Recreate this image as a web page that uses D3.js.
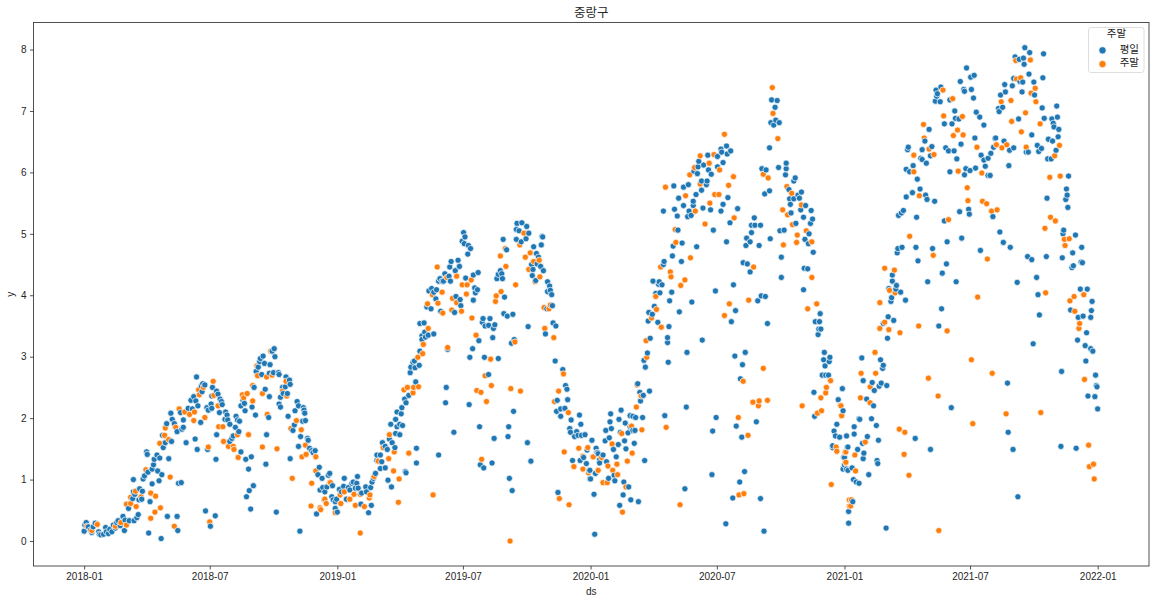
<!DOCTYPE html>
<html>
<head>
<meta charset="utf-8">
<script src="https://d3js.org/d3.v7.min.js"></script>
<style>
    html, body { margin: 0; padding: 0; background: #fff; }
    text { font-family: "Liberation Sans", Arial, sans-serif; fill: #262626; }
    .kr { font-family: "Noto Sans CJK KR", sans-serif; }
</style>
</head>
<body>
<svg id="chart"></svg>
<script>
// [days since 2018-01-01, y]
const weekdayPoints = [
[0,.16],[1,.26],[3,.30],[6,.23],[9,.18],[11,.14],[13,.23],[16,.29],[21,.15],[22,.11],[24,.10],[28,.11],[31,.22],[32,.15],[35,.12],[37,.19],[40,.15],[42,.26],[45,.21],[47,.30],[49,.33],[52,.25],[56,.40],[58,.17],[59,.34],[65,.33],[72,.33],[76,.38],[78,.43],[93,.13],[111,.04],[120,.40],[134,.40],[135,.17],
[64,.53],[70,.69],[73,.76],[71,.80],[79,.67],[83,.68],[80,.85],[84,.81],[95,.64],[98,.93],[108,.98],[136,.94],[140,.95],[112,1.08],[71,1.0],[85,1.01],[87,1.06],[92,1.12],[98,1.17],[100,1.24],[101,1.33],[90,1.45],[91,1.41],[105,1.40],[109,1.35],[106,1.14],[122,1.34],[114,1.52],[117,1.60],[113,1.72],[126,1.62],[119,1.91],[125,2.08],[127,1.98],[130,1.91],[134,1.78],[141,1.82],[143,1.85],[143,1.97],[147,1.60],[160,1.66],[163,1.49],[168,1.93],[139,2.09],[150,2.16],[156,2.15],[154,2.29],[158,2.35],[161,2.28],[164,2.20],[162,2.67],[170,2.43],[169,2.52],[171,2.56],[174,2.54],[177,2.17],[179,2.13],[183,2.23],[184,2.16],[184,2.36],[185,2.50],[191,2.44],[193,2.39],[196,2.31],[198,2.27],[199,2.22],[195,2.09],[204,2.10],[206,2.05],[203,1.98],[207,1.97],[210,1.90],[191,1.73],[178,1.49],[190,1.33],[175,.49],[189,.41],[182,.24],
[219,2.03],[221,1.97],[224,1.95],[218,1.85],[223,1.78],[215,1.71],[213,1.67],[210,1.62],[226,1.45],[233,1.33],[241,1.37],[237,1.17],[244,.90],[238,.82],[234,.72],[240,.52],[277,.47],[311,.16],[262,1.25],[263,1.73],[226,2.20],[231,2.24],[229,2.29],[232,2.12],[242,2.18],[247,2.05],[245,2.50],[261,2.47],[267,2.35],[266,2.01],[248,2.76],[251,2.83],[253,2.92],[254,2.97],[258,3.01],[260,2.89],[268,2.87],[274,3.13],[271,3.09],[275,3.00],[256,2.71],[267,2.73],[273,2.74],[280,2.74],[281,2.71],[291,2.67],[296,2.62],[297,2.55],[290,2.51],[286,2.50],[293,2.40],[287,2.40],[283,2.34],[281,2.23],[283,2.18],[294,2.03],[307,2.27],[309,2.20],[304,2.12],[316,2.17],[317,2.13],[318,2.08],[315,1.95],[319,1.96],[303,1.89],[301,1.80],[312,1.70],[322,1.67],[323,1.64],[309,1.54],[297,1.34],[325,1.51],[328,1.47],[333,1.47],[330,1.44],[339,1.20],[337,1.08],[343,1.02],[352,1.07],[340,.83],[344,.87],[347,.80],[350,.88],[335,.44],[346,.67],
[354,1.10],[358,.90],[357,.72],[362,.64],[359,.67],[364,.68],[362,.53],[365,.47],[368,.84],[371,.80],[375,1.02],[374,.89],[378,.68],[381,.87],[383,.83],[386,.94],[388,.96],[391,.86],[393,.94],[394,1.05],[395,.86],[399,.60],[400,.78],[406,.88],[407,.80],[410,.46],[414,.58],[413,.87],[415,.96],[417,1.02],[420,1.10],[427,1.18],[434,1.19],[438,.99],[443,.88],[422,1.31],[422,1.40],[427,1.40],[429,1.29],[430,1.60],[434,1.54],[437,1.49],[440,1.66],[444,1.60],[448,1.52],[442,1.90],[449,1.98],[451,1.86],[455,1.90],[459,1.88],[449,1.75],[455,1.73],[451,2.10],[457,2.07],[458,2.17],[462,2.31],[464,2.25],[464,1.11],[463,1.13],[479,1.51],[479,1.27],[470,2.74],[471,2.83],[474,2.91],[476,2.93],[477,2.82],[483,2.86],[468,2.37],[478,2.59],[484,3.09],[484,3.54],[490,3.55],[487,3.34],[487,3.28],[491,3.40],[492,3.32],[496,3.35],[504,3.37],[497,4.07],[501,4.11],[504,4.05],[508,4.09],[507,3.94],[494,3.81],[500,3.78],[514,3.74],[511,4.23],[513,4.27],[516,4.23],[520,4.35],[518,4.23],[526,4.31],[528,4.23],[527,4.46],[529,4.55],[535,4.40],[539,4.57],[541,4.47],[547,5.02],[549,4.95],[545,4.88],[548,4.84],[554,4.81],[557,4.76],[553,4.67],[550,4.28],[561,4.33],[568,4.37],[563,4.12],[567,4.09],[564,4.04],[536,3.98],[542,3.93],[543,3.83],[561,3.92],[534,3.72],[575,3.62],[585,3.62],[574,3.56],[578,3.50],[583,3.51],[590,3.46],[592,3.52],[589,3.31],[569,3.26],[560,3.13],[556,2.99],[524,3.12],[577,2.99],[597,2.97],[583,2.71],[522,2.50],[521,2.25],[555,2.22],[533,1.77],[511,1.40],[570,1.86],[591,1.67],[571,1.24],[576,1.19],[588,1.27],
[604,4.91],[609,4.74],[600,4.40],[602,4.35],[595,4.27],[597,4.34],[603,4.27],[606,3.97],[605,3.70],[610,3.66],[618,3.69],[620,3.28],[616,3.22],[619,2.11],[612,1.86],[611,1.70],[613,1.02],[617,.82],[640,3.49],[639,1.60],[644,1.30],[624,5.17],[631,5.18],[638,5.12],[623,5.07],[627,5.05],[630,4.87],[623,4.91],[641,5.01],[637,4.92],[648,4.79],[660,4.96],[661,4.95],[659,4.82],[652,4.68],[655,4.62],[645,4.50],[647,4.42],[653,4.51],[658,4.47],[662,4.40],[646,4.32],[651,4.24],[668,4.22],[671,4.15],[668,4.06],[672,4.08],[674,4.01],[675,3.83],[667,3.78],[676,3.55],[680,3.50],[665,3.37],[679,2.93],[690,2.79],[694,2.53],[696,2.47],[682,2.29],[697,2.30],[687,2.15],[693,2.16],[681,2.11],[687,2.03],[702,1.97],[714,2.05],[716,1.90],[700,1.83],[701,1.77],[710,1.78],[707,1.70],[712,1.72],[717,1.72],[722,1.73],[732,1.64],[704,1.31],[715,1.31],[720,1.36],[724,1.26],[725,1.48],[728,1.15],[730,1.01],[737,1.10],[738,1.51],[739,1.44],[743,1.32],[683,.79],[735,.76],[736,.11],
[741,1.42],[729,1.15],[729,1.01],[732,1.64],[740,1.44],[743,1.27],[748,1.40],[753,1.29],[751,1.63],[757,1.68],[760,1.83],[752,1.80],[758,1.94],[759,2.07],[771,1.98],[774,2.13],[773,1.77],[780,1.92],[784,1.76],[770,1.57],[779,1.63],[781,1.50],[763,1.49],[767,1.37],[793,1.59],[808,1.31],[764,1.07],[756,1.02],[765,.98],[778,.96],[785,.88],[777,.75],[772,.58],[788,.67],[799,.64],[787,2.04],[791,2.03],[795,2.01],[805,2.01],[787,1.86],[791,1.80],[794,1.80],[802,2.28],[806,2.37],[801,2.42],[815,2.44],[798,2.56],[837,2.04],[868,2.18],[807,2.94],[809,2.83],[812,3.06],[842,2.91],[869,3.07],[816,3.30],[841,3.23],[841,3.31],[891,3.27],[813,3.58],[814,3.72],[819,3.69],[822,3.82],[827,3.56],[843,3.49],[844,3.91],[858,3.73],[876,3.89],[820,4.23],[829,4.22],[828,4.18],[833,4.17],[824,4.03],[830,4.04],[847,4.05],[835,4.50],[836,4.55],[861,4.55],[848,4.64],[849,4.80],[862,4.85],[883,4.79],[856,5.06],[835,5.37],[851,5.40],[855,5.29],[864,5.46],[857,5.58],[870,5.28],[872,5.37],[875,5.30],[878,5.46],[878,5.53],[882,5.64],[892,5.42],[903,5.39],[890,5.71],[850,5.78],[864,5.76],[871,5.80],[890,5.86],[897,5.80],[898,5.86],[884,5.98],[879,6.02],[885,6.09],[886,6.18],[893,6.12],[900,6.04],[904,5.97],[899,6.28],[913,6.26],[913,6.09],[921,6.16],[918,6.38],[919,6.33],[926,6.43],[927,6.30],[932,6.35],[928,5.59],[921,5.48],[918,5.37],[942,5.41],[931,5.18],[907,5.06],[926,4.87],[910,4.07],[936,4.17],[939,3.75],[933,3.57],[911,2.01],[906,1.79],[905,1.08],[866,.85],[925,.28],[938,3.01],[953,3.07],[949,2.87],[946,2.64],[940,1.87],[969,1.94],[948,1.69],[952,1.13],[945,.96],[935,.70],[975,.69],[980,.16],[985,3.54],[971,3.91],[976,3.99],[982,3.98],[960,4.38],[956,4.51],[950,4.53],[955,4.93],[954,4.81],[960,4.87],[962,5.02],[962,5.14],[967,5.14],[975,5.14],[966,5.26],[973,4.81],[989,4.92],[1003,5.05],[1009,5.06],[1005,4.62],[1005,4.29],[1037,4.09],[1038,4.44],[1043,4.43],[1051,4.70],[1044,4.84],[1039,4.91],[1045,5.00],[1026,5.17],[1037,5.27],[1047,5.17],[1050,5.24],[1048,5.38],[1040,5.46],[1033,5.39],[1019,5.34],[1018,5.48],[1017,5.57],[1023,5.57],[1031,5.58],[1029,5.63],[1034,5.68],[1016,5.72],[1025,5.91],[1023,5.86],[1011,5.96],[1012,6.06],[1012,6.15],[1001,6.08],[983,6.04],[977,6.06],[981,5.65],[988,5.70],[988,6.40],[990,6.81],[997,6.85],[994,6.77],[1002,6.81],[991,7.18],[999,7.17],[996,7.06],[1061,3.70],[1054,3.57],[1060,3.57],[1059,3.45],[1062,3.45],[1058,3.36],[1067,3.07],[1075,2.99],[1066,2.95],[1074,2.92],[1068,2.85],[1064,2.70],[1069,2.70],[1073,2.70],[1093,2.48],[1052,2.42],[1053,2.03],[1087,2.30],[1094,2.12],[1085,1.90],[1081,1.79],[1083,1.71],[1089,1.69],[1099,1.71],[1100,1.53],[1079,1.52],[1079,1.55],[1096,1.36],[1094,1.18],[1099,1.17],[1102,.48],[1102,.29],
[1108,.64],[1156,.21],[1346,.72],[1131,1.08],[1117,.94],[1113,.96],[1109,1.00],[1107,1.19],[1101,1.15],[1096,1.24],[1094,1.17],[1095,1.36],[1101,1.53],[1110,1.74],[1110,1.86],[1117,1.99],[1118,1.98],[1135,1.99],[1142,1.88],[1129,1.70],[1145,1.64],[1122,1.59],[1115,1.49],[1124,1.43],[1123,1.34],[1143,1.31],[1144,1.26],[1198,1.67],[1220,1.49],[1138,2.20],[1128,2.31],[1123,2.61],[1136,2.58],[1149,2.57],[1139,2.45],[1146,2.52],[1157,2.53],[1121,2.98],[1148,2.95],[1152,2.86],[1151,2.81],[1158,3.30],[1159,3.65],[1167,3.59],[1152,3.54],[1184,3.92],[1163,3.90],[1164,3.96],[1177,4.05],[1170,4.10],[1171,4.16],[1160,4.11],[1165,4.23],[1165,4.33],[1172,4.69],[1173,4.76],[1179,4.78],[1199,4.78],[1202,4.56],[1223,4.76],[1243,4.51],[1237,4.36],[1216,4.22],[1257,4.22],[1236,3.78],[1232,3.50],[1244,4.87],[1265,4.93],[1292,4.73],[1250,2.17],[1332,1.77],[1339,1.49],[1331,2.57],[1368,3.21],[1377,3.68],[1375,4.01],[1373,4.29],[1345,4.21],[1320,5.03],[1325,4.86],[1335,4.78],[1360,4.63],[1366,4.58],[1387,4.63],[1410,4.61],[1425,4.69],[1438,4.78],[1437,4.54],[1439,4.53],[1426,4.48],[1424,4.45],[1409,2.76],[1408,1.54],[1430,1.51],[1174,5.30],[1178,5.34],[1181,5.38],[1200,5.27],[1185,5.60],[1194,5.67],[1205,5.73],[1213,5.63],[1215,5.56],[1226,5.53],[1240,5.21],[1262,5.36],[1275,5.40],[1276,5.32],[1310,5.28],[1201,5.89],[1185,6.05],[1190,6.01],[1195,6.11],[1188,6.41],[1187,6.37],[1206,6.23],[1208,6.21],[1214,6.15],[1208,6.37],[1212,6.51],[1222,6.42],[1220,6.27],[1218,6.70],[1240,6.79],[1251,6.79],[1255,7.00],[1256,6.88],[1261,6.87],[1227,7.16],[1234,7.15],[1229,7.24],[1230,7.28],[1228,7.34],[1235,7.39],[1248,7.18],[1263,7.48],[1269,7.32],[1268,7.35],[1279,7.35],[1282,7.21],[1272,7.70],[1278,7.55],[1283,7.58],[1286,6.98],[1291,6.90],[1297,6.77],[1284,6.56],[1264,6.46],[1242,6.40],[1246,6.35],[1254,6.35],[1258,6.22],[1248,6.01],[1269,5.96],[1271,6.06],[1277,6.03],[1285,6.07],[1293,6.28],[1297,6.20],[1303,6.23],[1307,6.31],[1299,6.10],[1303,5.95],[1306,5.95],[1313,6.55],[1314,6.56],[1311,6.41],[1326,6.51],[1334,6.36],[1340,6.40],[1333,6.11],[1319,6.99],[1318,7.04],[1324,7.06],[1321,7.26],[1328,7.31],[1327,7.43],[1338,7.41],[1347,6.87],[1340,7.53],[1352,7.31],[1349,7.48],[1353,7.47],[1342,7.88],[1348,7.84],[1354,7.86],[1355,7.76],[1356,8.03],[1363,7.95],[1383,7.93],[1362,7.60],[1369,7.47],[1382,7.54],[1370,7.26],[1381,7.05],[1366,6.61],[1384,6.88],[1395,6.87],[1403,6.90],[1402,7.08],[1397,6.80],[1398,6.74],[1405,6.70],[1404,6.58],[1390,6.54],[1396,6.51],[1374,6.44],[1380,6.39],[1376,6.34],[1361,6.33],[1358,6.33],[1401,6.36],[1389,6.22],[1394,6.22],[1419,5.94],[1416,5.73],[1417,5.63],[1415,5.56],[1418,5.43],[1388,5.58],[1412,5.06],[1411,5.00],[1429,4.98],[1436,4.10],[1446,4.10],[1453,3.90],[1452,3.75],[1451,3.64],[1440,3.66],[1433,3.64],[1422,3.76],[1445,3.39],[1432,3.27],[1443,3.18],[1451,3.13],[1454,3.09],[1444,2.93],[1458,2.70],[1459,2.53],[1460,2.51],[1447,2.36],[1457,2.35],[1461,2.15]
];

const weekendPoints = [
[4,.24],[11,.17],[19,.27],[45,.24],[53,.30],[61,.26],[61,.60],[67,.61],[75,.56],[67,.71],[82,.72],[74,.81],[96,.78],[103,.73],[110,.54],[102,.47],[96,.37],[130,.24],[181,.31],[124,1.04],[89,1.16],[109,1.59],[116,1.72],[122,1.65],[117,1.84],[132,1.85],[137,2.15],[145,2.10],[152,2.06],[159,2.10],[158,1.96],[174,2.01],[165,2.46],[172,2.50],[166,2.38],[186,2.60],[187,2.37],[193,2.20],[194,1.86],[200,1.86],[179,1.53],[201,1.62],[208,1.54],[215,1.54],[216,1.49],[222,1.36],[221,1.73],[237,1.73],[257,1.53],[278,1.50],[228,2.38],[235,2.40],[230,2.33],[243,2.28],[243,2.53],[257,2.40],[264,2.06],[250,2.69],[263,2.67],[271,2.70],[249,2.85],[269,3.09],[291,2.60],[286,2.44],[292,2.36],[306,1.96],[298,1.83],[313,1.81],[319,1.56],[320,1.41],[314,1.37],[334,1.37],[300,1.02],[328,.94],[334,1.14],[354,.95],[327,.57],[341,.51],[340,.54],[347,.68],[349,.61],
[355,.95],[362,.46],[369,.75],[370,.61],[375,.80],[383,.68],[389,.76],[391,.58],[398,.76],[404,.56],[398,.13],[411,.70],[412,.75],[418,1.05],[424,1.30],[439,1.34],[446,1.14],[454,1.01],[453,.63],[440,1.73],[447,1.45],[431,1.52],[468,1.43],[503,.75],[461,2.46],[466,2.50],[474,2.41],[475,2.50],[482,2.51],[481,2.99],[488,3.05],[489,3.20],[496,3.46],[524,3.15],[495,3.86],[502,4.01],[510,3.87],[516,4.05],[517,3.71],[530,3.76],[531,3.95],[537,3.88],[544,3.74],[551,4.02],[509,4.46],[523,4.29],[537,4.31],[545,4.17],[552,4.17],[558,4.25],[559,3.63],[565,3.35],[586,2.96],[578,2.69],[566,2.45],[572,2.42],[580,2.27],[587,2.53],[615,2.48],[629,2.44],[621,3.24],[573,1.33],[614,0],[593,3.90],[594,3.99],[601,4.06],[622,4.17],[608,4.47],[600,4.64],[607,4.76],[634,5.01],[628,4.82],[643,4.69],[636,4.62],[648,4.55],[656,4.57],[641,4.42],[657,4.30],[650,4.22],[663,3.80],[672,3.84],[670,3.78],[664,3.46],[677,3.31],[691,2.72],[684,2.44],[678,2.27],[698,2.09],[692,1.45],[713,1.51],[726,1.52],[706,1.21],[719,1.38],[719,1.17],[727,1.11],[734,1.37],[741,1.15],[685,.69],[699,.59],
[992,7.38],[993,6.96],[1000,6.55],[923,6.62],[838,5.76],[867,5.62],[873,5.96],[880,6.08],[888,6.27],[908,6.29],[901,6.15],[916,6.04],[936,5.93],[929,5.79],[888,5.81],[909,5.64],[915,5.64],[902,5.50],[881,5.37],[937,5.26],[895,5.16],[852,5.07],[853,4.86],[874,4.61],[831,4.46],[845,4.38],[846,4.30],[866,4.25],[860,4.16],[824,3.98],[825,3.77],[818,3.63],[832,3.48],[810,3.26],[811,2.99],[797,2.54],[803,2.36],[796,2.18],[804,1.81],[839,1.85],[859,.59],[776,.47],[781,.88],[748,.95],[754,.95],[769,1.08],[741,1.15],[762,1.15],[755,1.22],[768,1.25],[783,1.30],[790,1.43],[746,1.36],[733,1.37],[761,1.58],[775,1.75],[789,1.87],[930,3.86],[958,3.92],[923,3.67],[979,2.81],[950,2.60],[964,2.26],[973,2.28],[972,2.20],[985,2.29],[943,2.01],[957,1.72],[944,.75],[951,.77],[965,4.46],[1008,4.82],[1027,4.86],[1028,4.98],[1021,5.15],[1041,5.05],[1049,4.87],[1007,5.39],[1014,5.31],[1013,5.77],[1020,5.66],[1034,5.47],[979,5.97],[986,5.91],[1049,4.29],[1056,3.86],[1043,3.78],[1035,2.20],[1076,2.61],[1070,2.50],[1069,2.41],[1062,2.33],[1063,2.12],[1057,2.08],[1090,2.21],[1092,2.04],[1084,1.53],[1085,1.46],[1098,1.45],[1098,1.27],[1077,.92],[1103,.67],[1103,.57],
[1105,.57],[1106,.67],[1232,.17],[1189,1.07],[1182,1.41],[1175,1.82],[1183,1.77],[1112,1.14],[1098,1.28],[1111,1.40],[1097,1.44],[1126,1.61],[1092,2.04],[1091,2.20],[1119,2.33],[1133,2.25],[1133,2.51],[1120,2.73],[1141,2.73],[1140,3.07],[1147,3.46],[1160,3.44],[1176,3.39],[1154,3.56],[1147,3.88],[1161,4.08],[1169,4.04],[1154,4.44],[1168,4.41],[1190,4.96],[1203,3.50],[1244,3.42],[1224,4.65],[1217,2.65],[1231,2.36],[1281,1.91],[1279,2.95],[1309,2.73],[1329,2.07],[1288,3.97],[1302,4.59],[1246,5.23],[1204,5.62],[1196,6.01],[1196,6.28],[1218,6.38],[1225,6.29],[1211,6.56],[1210,6.78],[1239,6.92],[1266,6.91],[1259,6.69],[1253,6.60],[1267,6.61],[1252,7.20],[1238,7.34],[1287,6.41],[1260,6.02],[1273,5.75],[1274,5.54],[1295,5.53],[1301,5.49],[1308,5.37],[1316,5.39],[1294,5.99],[1315,6.45],[1323,6.40],[1330,6.45],[1322,7.15],[1336,7.17],[1337,6.83],[1357,6.97],[1351,6.66],[1358,6.41],[1343,7.82],[1364,7.83],[1344,7.52],[1350,7.54],[1365,7.29],[1371,7.37],[1372,7.15],[1378,6.79],[1406,6.44],[1399,6.27],[1392,5.92],[1407,5.94],[1393,5.27],[1400,5.21],[1385,5.09],[1413,4.91],[1420,4.92],[1414,4.81],[1386,4.04],[1421,3.91],[1427,3.98],[1441,4.01],[1428,3.74],[1435,3.54],[1434,3.46],[1442,2.63],[1379,2.09],[1448,1.56],[1455,1.25],[1449,1.21],[1456,1.01]
];

const xTickLabels = ['2018-01', '2018-07', '2019-01', '2019-07', '2020-01', '2020-07', '2021-01', '2021-07', '2022-01'];
const yTickLabels = [0, 1, 2, 3, 4, 5, 6, 7, 8];
const seriesNames = ['평일', '주말'];
const seriesColors = ['#1f77b4', '#ff7f0e'];
const chartTitle = '중랑구';
const legendTitle = '주말';

const w = 1156;
const h = 602;
const plotLeft = 33.5, plotRight = 1149, plotTop = 22.5, plotBottom = 566;

const startDate = new Date(2018, 0, 1);
const parseMonth = d3.timeParse('%Y-%m');
const toDate = day => d3.timeDay.offset(startDate, day);

const scaleX = d3.scaleTime()
    .domain([toDate(-73), toDate(1535)])
    .range([plotLeft, plotRight]);
const scaleY = d3.scaleLinear()
    .domain([-0.407, 8.44])
    .range([plotBottom, plotTop]);

const svg = d3.select('#chart')
    .attr('width', w)
    .attr('height', h)
    .style('display', 'block');

// one list in time order so the colours overlap the way they do in the original
const allPoints = [];
weekdayPoints.forEach(p => allPoints.push({ day: p[0], y: p[1], s: 0 }));
weekendPoints.forEach(p => allPoints.push({ day: p[0], y: p[1], s: 1 }));
allPoints.sort((a, b) => a.day - b.day);

svg.append('g')
    .selectAll('circle')
    .data(allPoints)
    .enter()
    .append('circle')
    .attr('cx', d => scaleX(toDate(d.day)))
    .attr('cy', d => scaleY(d.y))
    .attr('r', 3.1)
    .attr('fill', d => seriesColors[d.s])
    .attr('stroke', '#fff')
    .attr('stroke-width', 0.7);

// Axes
const xAxis = d3.axisBottom(scaleX)
    .tickValues(xTickLabels.map(parseMonth))
    .tickFormat(d3.timeFormat('%Y-%m'))
    .tickSize(3.5)
    .tickPadding(3.5);
const yAxis = d3.axisLeft(scaleY)
    .tickValues(yTickLabels)
    .tickFormat(d3.format('d'))
    .tickSize(3.5)
    .tickPadding(3.5);

const gx = svg.append('g').attr('transform', `translate(0, ${plotBottom})`).call(xAxis);
const gy = svg.append('g').attr('transform', `translate(${plotLeft}, 0)`).call(yAxis);
[gx, gy].forEach(g => {
    g.select('.domain').remove();
    g.selectAll('.tick line').attr('stroke', '#262626').attr('stroke-width', 0.8);
    g.selectAll('.tick text').attr('font-size', 10).attr('font-family', '"Liberation Sans", Arial, sans-serif').attr('fill', '#262626');
});

svg.append('rect')
    .attr('x', plotLeft)
    .attr('y', plotTop)
    .attr('width', plotRight - plotLeft)
    .attr('height', plotBottom - plotTop)
    .attr('fill', 'none')
    .attr('stroke', '#262626')
    .attr('stroke-width', 0.8);

// Titles
svg.append('text')
    .attr('class', 'kr')
    .attr('x', (plotLeft + plotRight) / 2)
    .attr('y', 16.5)
    .attr('text-anchor', 'middle')
    .attr('font-size', 12.5)
    .text(chartTitle);
svg.append('text')
    .attr('x', (plotLeft + plotRight) / 2)
    .attr('y', 595)
    .attr('text-anchor', 'middle')
    .attr('font-size', 10)
    .text('ds');
svg.append('text')
    .attr('transform', `translate(14, ${(plotTop + plotBottom) / 2}) rotate(-90)`)
    .attr('text-anchor', 'middle')
    .attr('font-size', 10)
    .text('y');

// Legend
const legend = svg.append('g').attr('transform', 'translate(1088.5, 27.5)');
legend.append('rect')
    .attr('width', 55.5)
    .attr('height', 45)
    .attr('rx', 2.5)
    .attr('fill', '#fff')
    .attr('fill-opacity', 0.8)
    .attr('stroke', '#d6d6d6')
    .attr('stroke-width', 0.8);
legend.append('text')
    .attr('class', 'kr')
    .attr('x', 28)
    .attr('y', 9.5)
    .attr('text-anchor', 'middle')
    .attr('font-size', 10.5)
    .text(legendTitle);
seriesNames.forEach((name, i) => {
    const rowY = 22.8 + i * 13.8;
    legend.append('circle')
        .attr('cx', 14)
        .attr('cy', rowY)
        .attr('r', 3.6)
        .attr('fill', seriesColors[i])
        .attr('stroke', '#fff')
        .attr('stroke-width', 0.6);
    legend.append('text')
        .attr('class', 'kr')
        .attr('x', 50.5)
        .attr('y', rowY + 2.2)
        .attr('text-anchor', 'end')
        .attr('font-size', 10.5)
        .text(name);
});
</script>
</body>
</html>
